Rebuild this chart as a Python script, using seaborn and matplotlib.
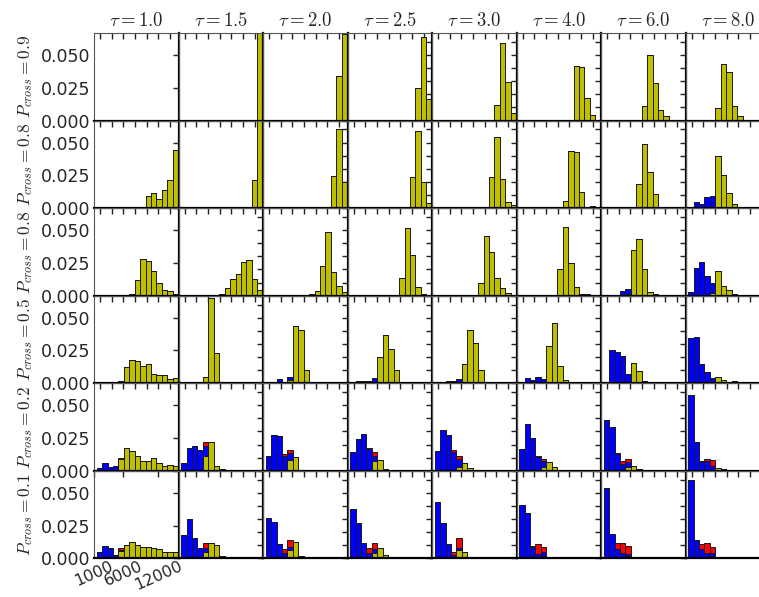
import numpy as np
import pandas as pd
import matplotlib
matplotlib.use("Agg")
import matplotlib.pyplot as plt
from matplotlib.ticker import MultipleLocator
import seaborn as sns

# ---------------- data ----------------
TAUS = [1.0, 1.5, 2.0, 2.5, 3.0, 4.0, 6.0, 8.0]
P_LABELS = ["0.9", "0.8", "0.8", "0.5", "0.2", "0.1"]
BIN_EDGES = [1400.0 + 933.333 * i for i in range(16)]
X_LABEL_TICKS = [1000, 6000, 12000]
Y_LABEL_TICKS = [0.0, 0.025, 0.05]
Y_LABEL_TEXT = ["0.000", "0.025", "0.050"]

# each panel: (first bin index, [heights of consecutive bins])
# rows = P_cross, entries = tau columns
YEL_P09 = [(0, []), (14, [0.1]), (13, [0.034, 0.066]), (12, [0.025, 0.064, 0.0166]),
           (11, [0.0115, 0.059, 0.0296, 0.006]), (10, [0.042, 0.041, 0.017, 0.0044]),
           (6, [0.0005, 0.011, 0.050, 0.029, 0.0084, 0.0033, 0.0008]),
           (4, [0.0005, 0.0093, 0.043, 0.037, 0.0113, 0.0034])]
BLU_P09 = [(0, [])] * 8
RED_P09 = [(0, [])] * 8

YEL_P08A = [(9, [0.0089, 0.0115, 0.0071, 0.014, 0.0214, 0.044]), (12, [0.0005, 0.0216, 0.078]),
            (11, [0.001, 0.0242, 0.060, 0.0196]), (10, [0.0005, 0.0237, 0.0585, 0.0196, 0.0038]),
            (10, [0.0235, 0.0546, 0.0222, 0.0046, 0.0025]),
            (8, [0.0056, 0.0434, 0.0426, 0.0122, 0.001, 0.0015]),
            (6, [0.0185, 0.049, 0.0275, 0.0109]), (5, [0.040, 0.0254, 0.0115, 0.0033, 0.0008])]
BLU_P08A = [(0, [])] * 7 + [(1, [0.0046, 0.0033, 0.0084, 0.0095])]
RED_P08A = [(0, [])] * 8

YEL_P08B = [(6, [0.001, 0.012, 0.0278, 0.0268, 0.019, 0.0095, 0.0043, 0.0038, 0.0015]),
            (6, [0.0008, 0.0012, 0.0056, 0.0128, 0.0166, 0.0257, 0.027, 0.0128, 0.004]),
            (7, [0.0005, 0.001, 0.0038, 0.0226, 0.0489, 0.0183, 0.0074, 0.003]),
            (8, [0.0005, 0.0137, 0.0515, 0.0311, 0.0064, 0.0012, 0.0008]),
            (8, [0.0095, 0.0452, 0.0336, 0.0133, 0.0055, 0.002]),
            (6, [0.0008, 0.0201, 0.052, 0.0252, 0.0064, 0.001, 0.001]),
            (4, [0.0015, 0.0345, 0.0431, 0.0201, 0.0025, 0.001, 0.0005]),
            (4, [0.002, 0.019, 0.0075, 0.004, 0.0013])]
BLU_P08B = [(0, [])] * 6 + [(3, [0.0036, 0.0035]), (0, [0.0025, 0.0209, 0.026, 0.015, 0.0075])]
RED_P08B = [(0, [])] * 8

YEL_P05 = [(4, [0.002, 0.0124, 0.0179, 0.0168, 0.0132, 0.0143, 0.0069, 0.0066, 0.0061, 0.003, 0.004]),
           (4, [0.0048, 0.065, 0.0227, 0.0012, 0.001, 0.0005]),
           (4, [0.0025, 0.0437, 0.0407, 0.0102, 0.0, 0.0005]),
           (4, [0.0008, 0.0203, 0.0369, 0.0262, 0.0102]),
           (5, [0.015, 0.0405, 0.0303, 0.01, 0.001, 0.001]),
           (5, [0.0283, 0.0456, 0.013, 0.0023]),
           (5, [0.0155, 0.0092, 0.0018, 0.001]),
           (5, [0.0048, 0.0023, 0.001, 0.0015])]
BLU_P05 = [(0, [0.001, 0.0005]), (1, [0.001, 0.001, 0.001]), (1, [0.0005, 0.003, 0.0005, 0.002]),
           (1, [0.002, 0.0018, 0.0015, 0.003]), (2, [0.0015, 0.0015, 0.003]),
           (1, [0.0043, 0.0023, 0.0048, 0.003]), (0, [0.001, 0.0252, 0.0239, 0.0209, 0.0074]),
           (0, [0.0346, 0.0354, 0.0145, 0.0087, 0.0043])]
RED_P05 = [(0, [])] * 8

YEL_P02 = [(4, [0.0089, 0.0173, 0.0153, 0.011, 0.0076, 0.0071, 0.0097, 0.0059, 0.0033, 0.0046, 0.0033]),
           (4, [0.0114, 0.0219, 0.0038, 0.0015]), (4, [0.0084, 0.0104, 0.0008, 0.0, 0.0005, 0.0005]),
           (4, [0.0076, 0.0084, 0.0015]), (4, [0.0028, 0.0059, 0.002]), (4, [0.0028, 0.0064, 0.0028]),
           (4, [0.0028, 0.0038, 0.0013]), (5, [0.002, 0.0015, 0.0005])]
BLU_P02 = [(0, [0.002, 0.0059, 0.0028, 0.0038]), (0, [0.0059, 0.0173, 0.019, 0.016, 0.0076]),
           (0, [0.011, 0.0275, 0.0262, 0.0115, 0.0051]), (0, [0.0142, 0.0242, 0.028, 0.0165, 0.004]),
           (0, [0.0148, 0.0308, 0.027, 0.014, 0.0061]), (0, [0.0168, 0.0356, 0.0249, 0.0105, 0.0048]),
           (0, [0.0389, 0.0333, 0.0127, 0.0053, 0.0036]), (0, [0.0575, 0.0216, 0.0064, 0.0071, 0.0038])]
RED_P02 = [(4, [0.0005]), (4, [0.0029]), (3, [0.0015, 0.0025]), (3, [0.0008, 0.0024]),
           (3, [0.002, 0.002]), (3, [0.001, 0.0016]), (2, [0.0008, 0.0018, 0.0028]),
           (2, [0.0012, 0.0021, 0.0041])]

YEL_P01 = [(4, [0.0056, 0.0102, 0.0122, 0.0102, 0.0089, 0.0084, 0.0076, 0.0069, 0.0051, 0.0051, 0.0051]),
           (4, [0.0051, 0.012, 0.0102, 0.0018, 0.0005]), (4, [0.0064, 0.0127, 0.0018, 0.0, 0.0005, 0.0005]),
           (4, [0.0038, 0.0081, 0.0025]), (4, [0.0064, 0.0051, 0.0005]), (4, [0.002, 0.0005]),
           (4, [0.002, 0.0005, 0.0005]), (4, [0.002, 0.0005, 0.0005, 0.0005])]
BLU_P01 = [(0, [0.0051, 0.0094, 0.0076, 0.0025, 0.0005]), (0, [0.0178, 0.0298, 0.0158, 0.0076, 0.003]),
           (0, [0.031, 0.028, 0.0107, 0.0043, 0.0025]), (0, [0.0377, 0.0267, 0.012, 0.0043, 0.0033]),
           (0, [0.0433, 0.0267, 0.0107, 0.0025, 0.0018]), (0, [0.0407, 0.0349, 0.0084, 0.003, 0.0025]),
           (0, [0.0534, 0.0183, 0.0071, 0.0038, 0.0013]), (0, [0.0598, 0.014, 0.0069, 0.0043, 0.0018])]
RED_P01 = [(4, [0.002]), (4, [0.0034]), (3, [0.0026, 0.005]), (3, [0.0033, 0.0044]),
           (3, [0.0026, 0.0076]), (2, [0.001, 0.0079, 0.0044]), (2, [0.0044, 0.0082, 0.0061]),
           (2, [0.0038, 0.0072, 0.0051])]

YELLOW = [YEL_P09, YEL_P08A, YEL_P08B, YEL_P05, YEL_P02, YEL_P01]
BLUE = [BLU_P09, BLU_P08A, BLU_P08B, BLU_P05, BLU_P02, BLU_P01]
RED = [RED_P09, RED_P08A, RED_P08B, RED_P05, RED_P02, RED_P01]

# ---------------- style ----------------
sns.set_style("white")
plt.rcParams["font.family"] = ["DejaVu Sans"]
plt.rcParams["mathtext.fontset"] = "cm"

PALETTE = {"y": (0.75, 0.75, 0.0), "b": (0.0, 0.0, 1.0), "r": (1.0, 0.0, 0.0)}
# seaborn stacks the last hue level at the bottom -> yellow bottom, red top
HUE_ORDER = ["r", "b", "y"]
NB = len(BIN_EDGES) - 1
CENTERS = [(BIN_EDGES[i] + BIN_EDGES[i + 1]) / 2 for i in range(NB)]


def expand(entry):
    start, vals = entry
    arr = np.zeros(NB)
    arr[start:start + len(vals)] = vals
    return arr


W, H = 759, 597
fig = plt.figure(figsize=(W / 100, H / 100), dpi=100)
LEFT0, TOP0, CW, RH = 94.3, 33.0, 84.5, 87.55
PX_PER_UNIT = 5.83 / 1000.0
XMAX = 1000 + CW / PX_PER_UNIT
YMAX = 0.0668

for r in range(6):
    for c in range(8):
        ax = fig.add_axes([(LEFT0 + c * CW) / W, 1 - (TOP0 + (r + 1) * RH) / H, CW / W, RH / H])
        ax.patch.set_visible(False)
        frames = []
        for name, group in (("y", YELLOW), ("b", BLUE), ("r", RED)):
            frames.append(pd.DataFrame({"x": CENTERS, "w": expand(group[r][c]), "s": name}))
        df = pd.concat(frames, ignore_index=True)
        if df["w"].sum() > 0:
            sns.histplot(data=df, x="x", weights="w", hue="s", hue_order=HUE_ORDER,
                         palette=PALETTE, multiple="stack", bins=BIN_EDGES, ax=ax,
                         legend=False, edgecolor="#1a1a1a", linewidth=0.7, alpha=1.0)
        ax.set_xlim(1000, XMAX)
        ax.set_ylim(0, YMAX)
        ax.set_xlabel("")
        ax.set_ylabel("")
        ax.tick_params(direction="in", top=True, right=True, length=4, width=1.0,
                       color="#222222", labelsize=12.5, pad=3)
        if c == 0:
            ax.set_yticks(Y_LABEL_TICKS)
            ax.set_yticklabels(Y_LABEL_TEXT)
            ax.set_ylabel(rf"$P_{{cross}}={P_LABELS[r]}$", fontsize=12.5, labelpad=4)
        else:
            ax.yaxis.set_major_locator(MultipleLocator(0.01))
            ax.set_yticklabels([])
        if r == 5 and c == 0:
            ax.set_xticks(X_LABEL_TICKS)
            ax.set_xticklabels([str(v) for v in X_LABEL_TICKS], rotation=24, ha="center",
                               fontsize=11.5)
            ax.tick_params(axis="x", pad=0)
        else:
            ax.xaxis.set_major_locator(MultipleLocator(2000))
            ax.set_xticklabels([])
        if r == 0:
            ax.set_title(rf"$\tau={TAUS[c]:.1f}$", fontsize=13.5, pad=5)
        for side in ("top", "left"):
            ax.spines[side].set_linewidth(0.8)
            ax.spines[side].set_color("#555555")
        for side in ("bottom", "right"):
            ax.spines[side].set_linewidth(1.6)
            ax.spines[side].set_color("black")

fig.savefig("out.png", dpi=100)
